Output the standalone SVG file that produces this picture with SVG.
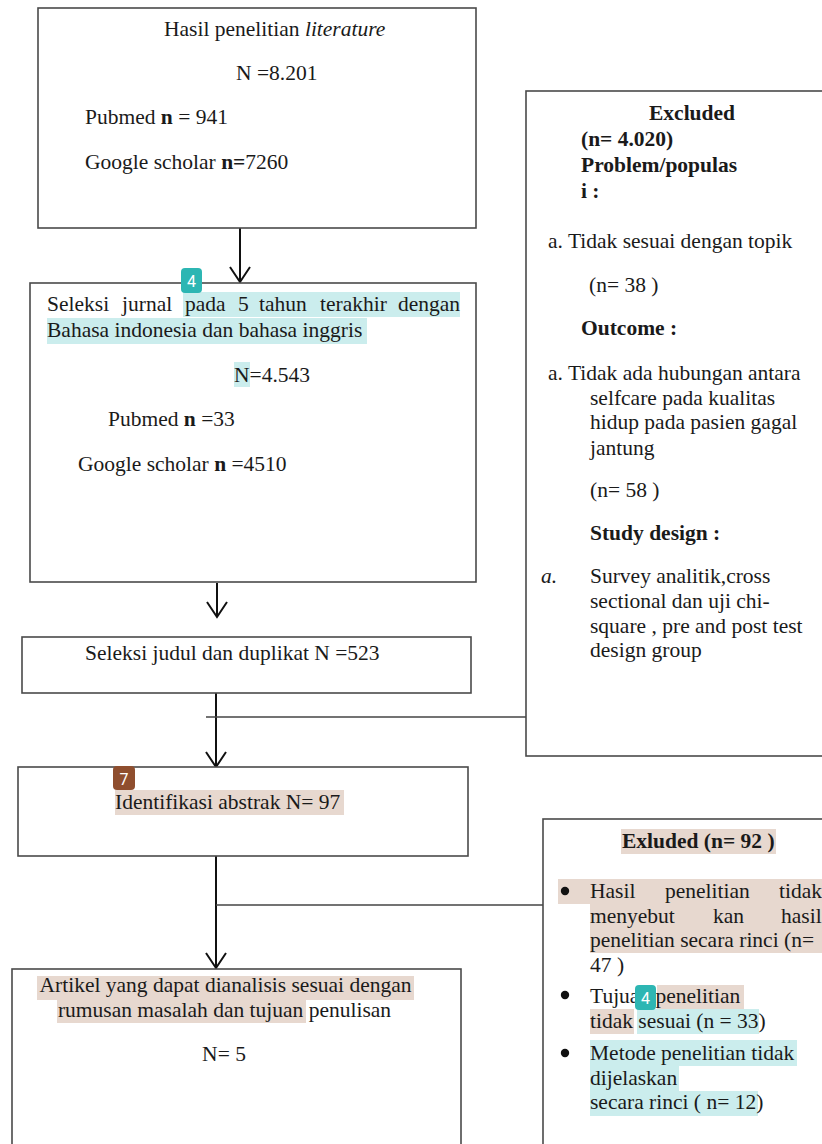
<svg xmlns="http://www.w3.org/2000/svg" width="822" height="1144" viewBox="0 0 822 1144">
<style>
.box{fill:#fff;stroke:#4a4a4a;stroke-width:1.6}
.t{font-family:"Liberation Serif","Times New Roman",serif;font-size:21.5px;fill:#1a1a1a}
.b{font-weight:bold}
.i{font-style:italic}
.hlt{fill:#cbeded}
.hlb{fill:#e7d8cf}
.badge-t{fill:#2db6b3}
.badge-b{fill:#8f4e2e}
.bt{font-family:Roboto,"Liberation Sans",sans-serif;font-size:16px;fill:#fff;text-anchor:middle}
.ln{stroke:#111;stroke-width:2;fill:none}
.hl{stroke:#444;stroke-width:1.6;fill:none}
</style>
<defs>
<marker id="arr" markerUnits="userSpaceOnUse" markerWidth="20" markerHeight="20" refX="0" refY="0" orient="auto" overflow="visible">
<path d="M-15,-10 L0,0 L-15,10" fill="none" stroke="#111" stroke-width="2"/>
</marker>
</defs>

<g id="connectors">
<line class="ln" x1="240" y1="228" x2="240" y2="282" marker-end="url(#arr)"/>
<line class="ln" x1="217" y1="583" x2="217" y2="617" marker-end="url(#arr)"/>
<line class="ln" x1="216" y1="693" x2="216" y2="767" marker-end="url(#arr)"/>
<line class="hl" x1="206" y1="717" x2="526" y2="717"/>
<line class="ln" x1="216" y1="856" x2="216" y2="968" marker-end="url(#arr)"/>
<line class="hl" x1="216" y1="905" x2="543" y2="905"/>
</g>

<g id="node-hasil">
<rect class="box" x="38" y="8" width="438" height="220"/>
<text class="t" x="164" y="36">Hasil penelitian <tspan class="i">literature</tspan></text>
<text class="t" x="236" y="80">N =8.201</text>
<text class="t" x="85" y="124">Pubmed <tspan class="b">n</tspan> = 941</text>
<text class="t" x="85" y="169">Google scholar <tspan class="b">n=</tspan>7260</text>
</g>

<g id="node-seleksi-jurnal">
<rect class="box" x="30" y="283" width="446" height="299"/>
<rect class="hlt" x="183" y="292" width="277" height="25"/>
<rect class="hlt" x="47" y="318" width="320" height="26"/>
<rect class="hlt" x="234" y="362" width="16" height="25"/>
<text class="t" y="311"><tspan x="47">Seleksi</tspan><tspan x="122">jurnal</tspan><tspan x="185">pada</tspan><tspan x="238">5</tspan><tspan x="259">tahun</tspan><tspan x="320">terakhir</tspan><tspan x="398">dengan</tspan></text>
<text class="t" x="47" y="337">Bahasa indonesia dan bahasa inggris</text>
<text class="t" x="234" y="382">N=4.543</text>
<text class="t" x="108" y="426">Pubmed <tspan class="b">n</tspan> =33</text>
<text class="t" x="78" y="471">Google scholar <tspan class="b">n</tspan> =4510</text>
<rect class="badge-t" x="181" y="268" width="21" height="25" rx="4"/>
<text class="bt" x="191.5" y="287">4</text>
</g>

<g id="node-excluded-1">
<rect class="box" x="526" y="91" width="310" height="665"/>
<text class="t b" x="649" y="120">Excluded</text>
<text class="t b" x="581" y="146">(n= 4.020)</text>
<text class="t b" x="581" y="172">Problem/populas</text>
<text class="t b" x="581" y="198">i :</text>
<text class="t" x="548" y="248">a. Tidak sesuai dengan topik</text>
<text class="t" x="589" y="292">(n= 38 )</text>
<text class="t b" x="581" y="335">Outcome :</text>
<text class="t" x="548" y="380">a. Tidak ada hubungan antara</text>
<text class="t" x="590" y="405">selfcare pada kualitas</text>
<text class="t" x="590" y="429">hidup pada pasien gagal</text>
<text class="t" x="590" y="455">jantung</text>
<text class="t" x="590" y="497">(n= 58 )</text>
<text class="t b" x="590" y="540">Study design :</text>
<text class="t i" x="541" y="583">a.</text>
<text class="t" x="590" y="583">Survey analitik,cross</text>
<text class="t" x="590" y="608">sectional dan  uji chi-</text>
<text class="t" x="590" y="633">square , pre and post test</text>
<text class="t" x="590" y="657">design group</text>
</g>

<g id="node-seleksi-judul">
<rect class="box" x="22" y="637" width="449" height="56"/>
<text class="t" x="85" y="660">Seleksi judul dan duplikat N =523</text>
</g>

<g id="node-abstrak">
<rect class="box" x="18" y="767" width="450" height="89"/>
<rect class="hlb" x="115" y="790" width="229" height="25"/>
<text class="t" x="115" y="809">Identifikasi abstrak N= 97</text>
<rect class="badge-b" x="113" y="766" width="22" height="24" rx="4"/>
<text class="bt" x="124" y="785">7</text>
</g>

<g id="node-excluded-2">
<rect class="box" x="543" y="819" width="300" height="340"/>
<rect class="hlb" x="621" y="829" width="155" height="25"/>
<text class="t b" x="622" y="848">Exluded (n= 92 )</text>
<rect class="hlb" x="558" y="879" width="264" height="25"/>
<rect class="hlb" x="590" y="904" width="232" height="49"/>
<circle cx="565" cy="891" r="4.2" fill="#111"/>
<text class="t" y="898"><tspan x="590">Hasil</tspan><tspan x="665">penelitian</tspan><tspan x="779">tidak</tspan></text>
<text class="t" y="923"><tspan x="590">menyebut</tspan><tspan x="713">kan</tspan><tspan x="781">hasil</tspan></text>
<text class="t" x="590" y="947">penelitian secara rinci (n=</text>
<text class="t" x="590" y="972">47 )</text>
<rect class="hlb" x="657" y="985" width="87" height="25"/>
<rect class="hlb" x="590" y="1009" width="44" height="25"/>
<rect class="hlt" x="637" y="1009" width="122" height="25"/>
<circle cx="565" cy="995" r="4.2" fill="#111"/>
<text class="t" x="590" y="1003">Tujuan penelitian</text>
<text class="t" x="590" y="1028">tidak sesuai (n = 33)</text>
<rect class="badge-t" x="635" y="985" width="21" height="25" rx="4"/>
<text class="bt" x="645.5" y="1004">4</text>
<rect class="hlt" x="590" y="1040" width="207" height="26"/>
<rect class="hlt" x="590" y="1066" width="89" height="25"/>
<rect class="hlt" x="590" y="1091" width="168" height="25"/>
<circle cx="565" cy="1053" r="4.2" fill="#111"/>
<text class="t" x="590" y="1060">Metode penelitian tidak</text>
<text class="t" x="590" y="1085">dijelaskan</text>
<text class="t" x="590" y="1109">secara rinci ( n= 12)</text>
</g>

<g id="node-artikel">
<rect class="box" x="12" y="969" width="449" height="190"/>
<rect class="hlb" x="37" y="976" width="377" height="24"/>
<rect class="hlb" x="57" y="1000" width="249" height="23"/>
<text class="t" x="225.5" y="992" text-anchor="middle">Artikel yang dapat dianalisis sesuai dengan</text>
<text class="t" x="224.5" y="1017" text-anchor="middle">rumusan masalah dan tujuan penulisan</text>
<text class="t" x="224" y="1061" text-anchor="middle">N= 5</text>
</g>
</svg>
